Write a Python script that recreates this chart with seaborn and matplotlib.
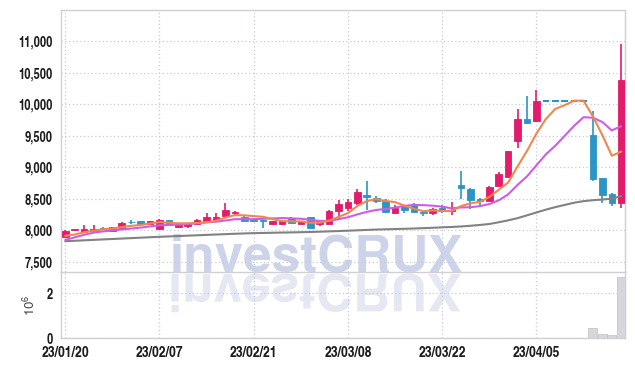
import os
import numpy as np
import pandas as pd
import matplotlib
matplotlib.use("Agg")
import matplotlib.pyplot as plt
import seaborn as sns
from matplotlib.textpath import TextPath
from matplotlib.patches import PathPatch
from matplotlib.font_manager import FontProperties
from matplotlib import font_manager as fm
import matplotlib.transforms as mtransforms
from matplotlib.ticker import FuncFormatter

# ---------------- data ----------------
dates = ["23/01/20", "23/01/25", "23/01/26", "23/01/27", "23/01/30", "23/01/31",
         "23/02/01", "23/02/02", "23/02/03", "23/02/06", "23/02/07", "23/02/08",
         "23/02/09", "23/02/10", "23/02/13", "23/02/14", "23/02/15", "23/02/16",
         "23/02/17", "23/02/20", "23/02/21", "23/02/22", "23/02/23", "23/02/24",
         "23/02/27", "23/02/28", "23/03/02", "23/03/03", "23/03/06", "23/03/07",
         "23/03/08", "23/03/09", "23/03/10", "23/03/13", "23/03/14", "23/03/15",
         "23/03/16", "23/03/17", "23/03/20", "23/03/21", "23/03/22", "23/03/23",
         "23/03/24", "23/03/27", "23/03/28", "23/03/29", "23/03/30", "23/03/31",
         "23/04/03", "23/04/04", "23/04/05", "23/04/06", "23/04/07", "23/04/10",
         "23/04/11", "23/04/12", "23/04/13", "23/04/14", "23/04/17", "23/04/18"]

opens = [7900, 8000, 7980, 7990, 8040, 7985, 8045, 8140, 8145, 8100,
         8030, 8160, 8055, 8065, 8095, 8150, 8160, 8230, 8270, 8215,
         8175, 8160, 8095, 8095, 8205, 8100, 8210, 8095, 8105, 8310,
         8360, 8440, 8570, 8515, 8465, 8280, 8375, 8425, 8285, 8280,
         8360, 8305, 8715, 8660, 8505, 8465, 8700, 8850, 9415, 9770,
         9730, 10060, 10060, 10060, 10060, 10060, 9520, 8825, 8585, 8430]
highs = [8000, 8030, 8090, 8080, 8060, 8055, 8130, 8170, 8150, 8150,
         8175, 8165, 8095, 8105, 8175, 8280, 8275, 8440, 8310, 8240,
         8200, 8165, 8150, 8155, 8210, 8150, 8215, 8150, 8320, 8480,
         8500, 8650, 8780, 8550, 8500, 8410, 8410, 8430, 8290, 8350,
         8410, 8450, 8940, 8670, 8510, 8700, 8925, 9260, 9930, 10130,
         10225, 10060, 10060, 10060, 10060, 10060, 9890, 8830, 8590, 10960]
lows = [7890, 7990, 7975, 7980, 8010, 7980, 8040, 8100, 8095, 8095,
        8025, 8075, 8040, 8040, 8090, 8145, 8150, 8220, 8230, 8135,
        8140, 8040, 8090, 8090, 8120, 8095, 8040, 8065, 8100, 8200,
        8305, 8410, 8330, 8440, 8280, 8255, 8280, 8285, 8230, 8240,
        8280, 8250, 8500, 8345, 8410, 8460, 8695, 8840, 9310, 9695,
        9725, 10060, 10060, 10060, 10060, 10060, 8790, 8430, 8395, 8360]
closes = [7990, 8015, 8030, 8030, 8030, 8050, 8125, 8130, 8100, 8145,
          8160, 8080, 8080, 8100, 8170, 8210, 8210, 8330, 8300, 8150,
          8150, 8150, 8145, 8150, 8125, 8145, 8045, 8145, 8315, 8425,
          8450, 8605, 8535, 8465, 8285, 8360, 8320, 8290, 8275, 8345,
          8305, 8330, 8680, 8490, 8465, 8690, 8900, 9255, 9770, 9700,
          10060, 10060, 10060, 10060, 10060, 10060, 8810, 8570, 8430, 10390]
volumes = [15000, 6000, 12000, 9000, 5000, 8000, 16000, 7000, 6000, 9000,
           15000, 10000, 6000, 5000, 11000, 14000, 12000, 18000, 9000, 11000,
           8000, 10000, 6000, 5000, 7000, 6000, 12000, 7000, 16000, 18000,
           15000, 19000, 20000, 11000, 15000, 9000, 8000, 10000, 6000, 7000,
           6000, 10000, 20000, 15000, 9000, 16000, 18000, 20000, 20000, 20000,
           20000, 0, 0, 0, 0, 0, 430000, 180000, 120000, 2720000]
ma_short = [7915, 7935, 7970, 7995, 8019, 8031, 8053, 8073, 8087, 8110,
            8132, 8123, 8113, 8113, 8118, 8128, 8154, 8204, 8244, 8240,
            8228, 8216, 8179, 8149, 8144, 8143, 8122, 8122, 8155, 8215,
            8276, 8388, 8466, 8496, 8468, 8450, 8393, 8344, 8306, 8318,
            8307, 8309, 8387, 8430, 8454, 8531, 8645, 8760, 9016, 9263,
            9537, 9769, 9930, 9988, 10060, 10060, 9810, 9512, 9186, 9252]
ma_mid = [7850, 7890, 7930, 7965, 7985, 8000, 8015, 8030, 8045, 8064,
          8081, 8088, 8093, 8100, 8114, 8130, 8138, 8158, 8178, 8179,
          8178, 8185, 8191, 8196, 8192, 8185, 8169, 8150, 8152, 8179,
          8209, 8255, 8294, 8325, 8341, 8363, 8390, 8405, 8401, 8393,
          8378, 8351, 8365, 8368, 8386, 8419, 8477, 8573, 8723, 8858,
          9034, 9207, 9345, 9502, 9661, 9798, 9789, 9721, 9587, 9656]
ma_long = [7830, 7836, 7843, 7850, 7857, 7864, 7871, 7878, 7885, 7892,
           7899, 7905, 7911, 7917, 7923, 7929, 7935, 7941, 7947, 7952,
           7957, 7960, 7963, 7966, 7969, 7972, 7975, 7980, 7985, 7990,
           7996, 8002, 8008, 8014, 8018, 8022, 8026, 8031, 8036, 8042,
           8049, 8055, 8063, 8074, 8087, 8102, 8130, 8160, 8195, 8240,
           8285, 8330, 8370, 8405, 8440, 8465, 8480, 8490, 8505, 8545]
price_ticks = [7500, 8000, 8500, 9000, 9500, 10000, 10500, 11000]
tick_every = 10

df = pd.DataFrame({"date": dates, "open": opens, "high": highs, "low": lows,
                   "close": closes, "volume": volumes, "ma5": ma_short,
                   "ma10": ma_mid, "ma_long": ma_long})
df["i"] = np.arange(len(df))

# ---------------- style ----------------
sns.set_style("white")
plt.rcParams['font.family'] = ['DejaVu Sans']

_FILES = {os.path.basename(f.fname).lower(): f.fname for f in fm.fontManager.ttflist}


def first_font(patterns, default):
    for p in patterns:
        for b, full in sorted(_FILES.items()):
            if b.startswith(p.lower()):
                return FontProperties(fname=full)
    return default


def extents(text, prop):
    return TextPath((0, 0), text, size=100, prop=prop).get_extents()


BOLD_DEF = FontProperties(family="DejaVu Sans", weight="bold")
FPB = first_font(["texgyreheros-bold.", "LiberationSans-Bold.", "Roboto-Bold."], BOLD_DEF)
FP = first_font(["texgyreheroscn-bold.", "RobotoCondensed-Bold.", "LiberationSansNarrow-Bold.",
                 "DejaVuSansCondensed-Bold."], BOLD_DEF)
FPR = first_font(["texgyreheros-regular.", "LiberationSans-Regular."],
                 FontProperties(family="DejaVu Sans"))


def size_for_width(text, target_px, prop):
    return 100 * target_px / extents(text, prop).width  # size in px


RED = "#e31b6b"
BLUE = "#2b95c6"
GRID = "#c5cade"
SPINE = "#cfcfd4"
TXT = "#1e1e1e"

fig = plt.figure(figsize=(6.35, 3.66), dpi=100, facecolor="white")
L, W = 61 / 635, (625 - 61) / 635
ax = fig.add_axes([L, 1 - 272 / 366, W, (272 - 10) / 366])
axv = fig.add_axes([L, 1 - 338 / 366, W, (338 - 272) / 366], sharex=ax)
for a in (ax, axv):
    a.set_facecolor("none")
    for s in a.spines.values():
        s.set_color(SPINE)
        s.set_linewidth(1.0)

# ---------------- watermark ----------------
# compromise between the reference's width (~286 px) and capital height (~39 px)
s_w = size_for_width("investCRUX", 286, FPB)
s_h = 100 * 39 / extents("CRUX", FPB).height
wm_px = float(np.sqrt(s_w * s_h))
cx, base_y = 316, 366 - 272  # display pixels (origin bottom-left)
fig.text(cx / 635, base_y / 366, "investCRUX", fontproperties=FPB,
         fontsize=wm_px * 72 / 100, color="#cdd3e8", ha="center", va="baseline",
         zorder=-2)
tp = TextPath((0, 0), "investCRUX", size=wm_px, prop=FPB)
ext = tp.get_extents()
tr = mtransforms.Affine2D().translate(-(ext.x0 + ext.x1) / 2, 0).scale(1, -1).translate(cx, base_y - 2)
refl = PathPatch(tp, transform=tr, facecolor="#e5e8f2", edgecolor="none", zorder=-2)
fig.patches.append(refl)
refl.set_figure(fig)

# ---------------- candles ----------------
bw = 0.7
for _, r in df.iterrows():
    x = r["i"]
    o, h, l, c = r["open"], r["high"], r["low"], r["close"]
    col = RED if c > o else BLUE
    ax.vlines(x, l, h, color=col, lw=1.2, zorder=3)
    if c == o:
        ax.hlines(o, x - bw / 2, x + bw / 2, color=col, lw=1.5, zorder=3)
    else:
        ax.bar(x, c - o, bottom=o, width=bw, color=col, edgecolor=col,
               linewidth=0.6, zorder=3)

sns.lineplot(data=df, x="i", y="ma_long", ax=ax, color="#828282", lw=1.5,
             estimator=None, zorder=4)
sns.lineplot(data=df, x="i", y="ma10", ax=ax, color="#cf5ce6", lw=1.5,
             estimator=None, zorder=4)
sns.lineplot(data=df, x="i", y="ma5", ax=ax, color="#f0874e", lw=1.5,
             estimator=None, zorder=5)

axv.bar(df["i"], df["volume"], width=0.95, color="#d6d6dd", edgecolor="#bfc0c8",
        linewidth=0.5, zorder=3)

# ---------------- axes formatting ----------------
ysize = size_for_width("11,000", 33, FP) * 72 / 100
xsize = size_for_width("23/01/20", 47, FP) * 72 / 100

xt = list(range(0, len(df), tick_every))
ax.set_xlim(-0.45, len(df) - 0.6)
ax.set_ylim(7340, 11500)
ax.set_yticks(price_ticks)
ax.yaxis.set_major_formatter(FuncFormatter(lambda v, p: f"{int(v):,}"))
ax.set_xticks(xt)
ax.tick_params(axis="x", labelbottom=False, length=0)
ax.tick_params(axis="y", length=0, pad=6, labelcolor=TXT)
for t in ax.get_yticklabels():
    t.set_fontproperties(FP)
    t.set_fontsize(ysize)
ax.grid(True, color=GRID, linestyle=(0, (1, 2)), linewidth=0.9)
ax.set_xlabel("")
ax.set_ylabel("")

axv.set_ylim(0, 2.95e6)
axv.set_yticks([0, 2e6])
axv.set_yticklabels(["0", "2"])
axv.set_xticks(xt)
axv.set_xticklabels([df["date"][k] for k in xt])
axv.tick_params(axis="both", length=0, labelcolor=TXT)
axv.tick_params(axis="y", pad=6)
axv.tick_params(axis="x", pad=6)
for t in axv.get_yticklabels():
    t.set_fontproperties(FP)
    t.set_fontsize(ysize)
for t in axv.get_xticklabels():
    t.set_fontproperties(FP)
    t.set_fontsize(xsize)
axv.grid(True, color=GRID, linestyle=(0, (1, 2)), linewidth=0.9)
axv.set_ylabel(r"$\mathregular{10^6}$", fontproperties=FPR, fontsize=9.5, color="#444444")
axv.yaxis.set_label_coords(-0.04, 0.5)
axv.spines["top"].set_visible(False)

fig.savefig("out.png", dpi=100, facecolor="white")
